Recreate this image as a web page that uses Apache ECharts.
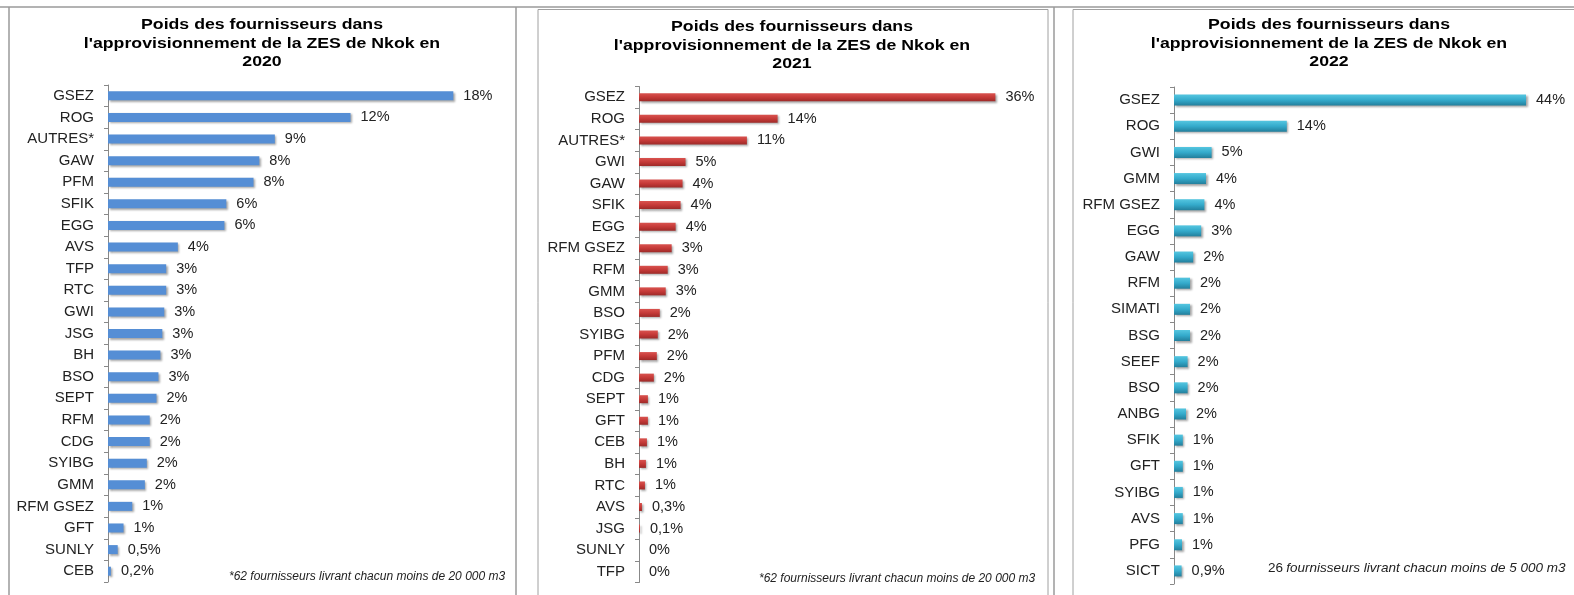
<!DOCTYPE html>
<html>
<head>
<meta charset="utf-8">
<script src="https://cdn.jsdelivr.net/npm/echarts@6/dist/echarts.min.js"></script>
<style>
  html, body {margin: 0; padding: 0; background: #fff;}
  #main {width: 1574px; height: 595px;}
</style>
</head>
<body>
<div id="main"></div>
<script>
// 2020
var cat2020 = ['GSEZ', 'ROG', 'AUTRES*', 'GAW', 'PFM', 'SFIK', 'EGG', 'AVS', 'TFP', 'RTC', 'GWI', 'JSG', 'BH', 'BSO', 'SEPT', 'RFM', 'CDG', 'SYIBG', 'GMM', 'RFM GSEZ', 'GFT', 'SUNLY', 'CEB'];
var val2020 = [17.8, 12.5, 8.6, 7.8, 7.5, 6.1, 6.0, 3.6, 3.0, 3.0, 2.9, 2.8, 2.7, 2.6, 2.5, 2.15, 2.15, 2.0, 1.9, 1.25, 0.8, 0.5, 0.15];
var lab2020 = ['18%', '12%', '9%', '8%', '8%', '6%', '6%', '4%', '3%', '3%', '3%', '3%', '3%', '3%', '2%', '2%', '2%', '2%', '2%', '1%', '1%', '0,5%', '0,2%'];

// 2021
var cat2021 = ['GSEZ', 'ROG', 'AUTRES*', 'GWI', 'GAW', 'SFIK', 'EGG', 'RFM GSEZ', 'RFM', 'GMM', 'BSO', 'SYIBG', 'PFM', 'CDG', 'SEPT', 'GFT', 'CEB', 'BH', 'RTC', 'AVS', 'JSG', 'SUNLY', 'TFP'];
var val2021 = [36, 14, 10.9, 4.7, 4.4, 4.2, 3.7, 3.3, 2.9, 2.7, 2.1, 1.9, 1.8, 1.5, 0.9, 0.9, 0.8, 0.7, 0.6, 0.3, 0.1, 0, 0];
var lab2021 = ['36%', '14%', '11%', '5%', '4%', '4%', '4%', '3%', '3%', '3%', '2%', '2%', '2%', '2%', '1%', '1%', '1%', '1%', '1%', '0,3%', '0,1%', '0%', '0%'];

// 2022
var cat2022 = ['GSEZ', 'ROG', 'GWI', 'GMM', 'RFM GSEZ', 'EGG', 'GAW', 'RFM', 'SIMATI', 'BSG', 'SEEF', 'BSO', 'ANBG', 'SFIK', 'GFT', 'SYIBG', 'AVS', 'PFG', 'SICT'];
var val2022 = [44, 14.1, 4.7, 4.0, 3.8, 3.4, 2.4, 2.0, 2.0, 2.0, 1.7, 1.7, 1.5, 1.1, 1.1, 1.1, 1.1, 1.0, 0.95];
var lab2022 = ['44%', '14%', '5%', '4%', '4%', '3%', '2%', '2%', '2%', '2%', '2%', '2%', '2%', '1%', '1%', '1%', '1%', '1%', '0,9%'];

var titleText = 'Poids des fournisseurs dans\nl\'approvisionnement de la ZES de Nkok en\n';
var font = 'Arial, "Liberation Sans", sans-serif';

var chart = echarts.init(document.getElementById('main'));

// titre un peu étiré en largeur comme sur l'original
function titleOf(year, x, y) {
    return {
        type: 'text', x: x, y: y, scaleX: 1.18, silent: true,
        style: {
            text: titleText + year,
            font: 'bold 15px ' + font,
            fill: '#000',
            textAlign: 'center',
            textVerticalAlign: 'top',
            lineHeight: 18.5
        }
    };
}

function yAxisOf(i, cats) {
    return {
        type: 'category', gridIndex: i, inverse: true, data: cats,
        axisLine: {show: true, lineStyle: {color: '#888', width: 1}},
        axisTick: {show: true, length: 4, lineStyle: {color: '#888'}},
        axisLabel: {fontFamily: font, fontSize: 15, color: '#222', margin: 14}
    };
}

function xAxisOf(i, max) {
    return {type: 'value', gridIndex: i, min: 0, max: max, show: false, splitLine: {show: false}};
}

function seriesOf(i, vals, labs, color, width) {
    return {
        type: 'bar', xAxisIndex: i, yAxisIndex: i, data: vals, barWidth: width,
        itemStyle: {
            color: color,
            shadowColor: 'rgba(0,0,0,0.35)', shadowBlur: 2, shadowOffsetX: 1.5, shadowOffsetY: 1.5
        },
        label: {
            show: true, position: 'right', distance: 10,
            fontFamily: font, fontSize: 14.5, color: '#222',
            formatter: function (p) { return labs[p.dataIndex]; }
        },
        silent: true
    };
}

var redGrad = new echarts.graphic.LinearGradient(0, 0, 0, 1, [
    {offset: 0, color: '#d9534f'}, {offset: 0.5, color: '#c53a38'}, {offset: 1, color: '#9e2a28'}
]);
var tealGrad = new echarts.graphic.LinearGradient(0, 0, 0, 1, [
    {offset: 0, color: '#55c6e0'}, {offset: 0.5, color: '#34aacb'}, {offset: 1, color: '#237f9c'}
]);

var noteFont = 'italic 12px ' + font;

var option = {
    animation: false,
    backgroundColor: '#fff',
    grid: [
        {left: 108, top: 85, width: 388, height: 497},
        {left: 639, top: 86.5, width: 396, height: 496},
        {left: 1174, top: 87, width: 400, height: 497}
    ],
    xAxis: [xAxisOf(0, 20), xAxisOf(1, 40), xAxisOf(2, 50)],
    yAxis: [yAxisOf(0, cat2020), yAxisOf(1, cat2021), yAxisOf(2, cat2022)],
    series: [
        seriesOf(0, val2020, lab2020, '#558ed5', 9),
        seriesOf(1, val2021, lab2021, redGrad, 8),
        seriesOf(2, val2022, lab2022, tealGrad, 11)
    ],
    graphic: [
        // cadres
        {type: 'line', shape: {x1: 0, y1: 7, x2: 1574, y2: 7}, style: {stroke: '#9a9a9a', lineWidth: 1.5}},
        {type: 'line', shape: {x1: 9, y1: 7, x2: 9, y2: 595}, style: {stroke: '#9a9a9a', lineWidth: 1.5}},
        {type: 'line', shape: {x1: 516, y1: 7, x2: 516, y2: 595}, style: {stroke: '#9a9a9a', lineWidth: 1.5}},
        {type: 'rect', shape: {x: 538, y: 9.5, width: 510, height: 600}, style: {fill: 'none', stroke: '#a0a0a0', lineWidth: 1}},
        {type: 'line', shape: {x1: 1054, y1: 7, x2: 1054, y2: 595}, style: {stroke: '#9a9a9a', lineWidth: 1.5}},
        {type: 'rect', shape: {x: 1073, y: 9.5, width: 600, height: 600}, style: {fill: 'none', stroke: '#a0a0a0', lineWidth: 1}},
        // titres
        titleOf(2020, 262, 16),
        titleOf(2021, 792, 18),
        titleOf(2022, 1329, 16),
        // notes
        {type: 'text', x: 229, y: 571, style: {text: '*62 fournisseurs livrant chacun moins de 20 000 m3', font: noteFont, fill: '#222'}},
        {type: 'text', x: 759, y: 573, style: {text: '*62 fournisseurs livrant chacun moins de 20 000 m3', font: noteFont, fill: '#222'}},
        {type: 'text', x: 1268, y: 561, style: {
            text: '{a|26} {b|fournisseurs livrant chacun moins de 5 000 m3}',
            rich: {
                a: {fontFamily: font, fontSize: 13.5, fill: '#222', color: '#222'},
                b: {fontFamily: font, fontSize: 13.5, fontStyle: 'italic', fill: '#222', color: '#222'}
            }
        }}
    ]
};

chart.setOption(option);
</script>
</body>
</html>
